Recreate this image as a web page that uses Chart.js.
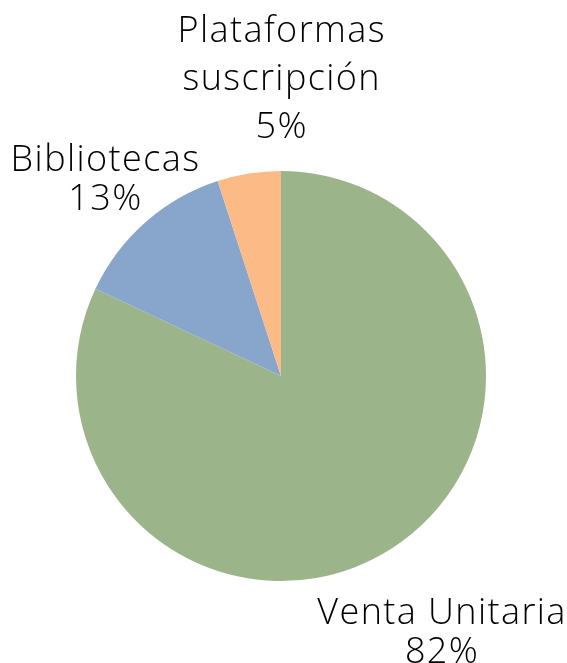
<!DOCTYPE html>
<html><head><meta charset="utf-8">
<script src="https://cdn.jsdelivr.net/npm/chart.js@4"></script>
<style>html,body{margin:0;padding:0;background:#fff}#wrap{width:567px;height:663px}</style>
</head><body><div id="wrap"><canvas id="c" width="567" height="663"></canvas></div>
<script>
const categories = ["Venta Unitaria", "Bibliotecas", "Plataformas suscripción"];
const labelLines = [["Venta Unitaria"], ["Bibliotecas"], ["Plataformas", "suscripción"]];
const values = [82, 13, 5];
const percentLabels = ["82%", "13%", "5%"];
const colors = ["#9CB48A", "#88A6CC", "#FCBA86"];

const FONT = '300 36px "Open Sans"';
const SPACING = 1.4;
const labelPlugin = {
  id: 'outLabels',
  afterDraw(chart) {
    const ctx = chart.ctx;
    const meta = chart.getDatasetMeta(0);
    ctx.save();
    ctx.font = FONT;
    ctx.letterSpacing = SPACING + 'px';
    ctx.fillStyle = '#000';
    ctx.textAlign = 'center';
    ctx.textBaseline = 'alphabetic';
    meta.data.forEach((arc, i) => {
      const p = arc.getProps(['x','y','startAngle','endAngle','outerRadius'], true);
      const mid = (p.startAngle + p.endAngle) / 2;
      const lines = labelLines[i].concat([percentLabels[i]]);
      let cx, firstBase, lh;
      if (i === 0) {
        cx = p.x + Math.cos(mid) * p.outerRadius * 1.46;
        firstBase = p.y + Math.sin(mid) * p.outerRadius * 1.46 - 5;
        lh = 39;
      } else if (i === 1) {
        cx = p.x + Math.cos(mid) * p.outerRadius * 1.3;
        firstBase = p.y + Math.sin(mid) * p.outerRadius * 1.3 - 5;
        lh = 39;
      } else {
        cx = p.x;
        firstBase = p.y - p.outerRadius - 129;
        lh = 48;
      }
      lines.forEach((t, k) => ctx.fillText(t, cx + SPACING / 2, firstBase + k * lh));
    });
    ctx.restore();
  }
};

new Chart(document.getElementById('c'), {
  type: 'pie',
  data: { labels: categories, datasets: [{ data: values, backgroundColor: colors, borderWidth: 0 }] },
  options: {
    responsive: false,
    animation: false,
    layout: { padding: { left: 76, right: 81, top: 171, bottom: 82 } },
    plugins: { legend: { display: false }, tooltip: { enabled: false } }
  },
  plugins: [labelPlugin]
});
</script></body></html>
